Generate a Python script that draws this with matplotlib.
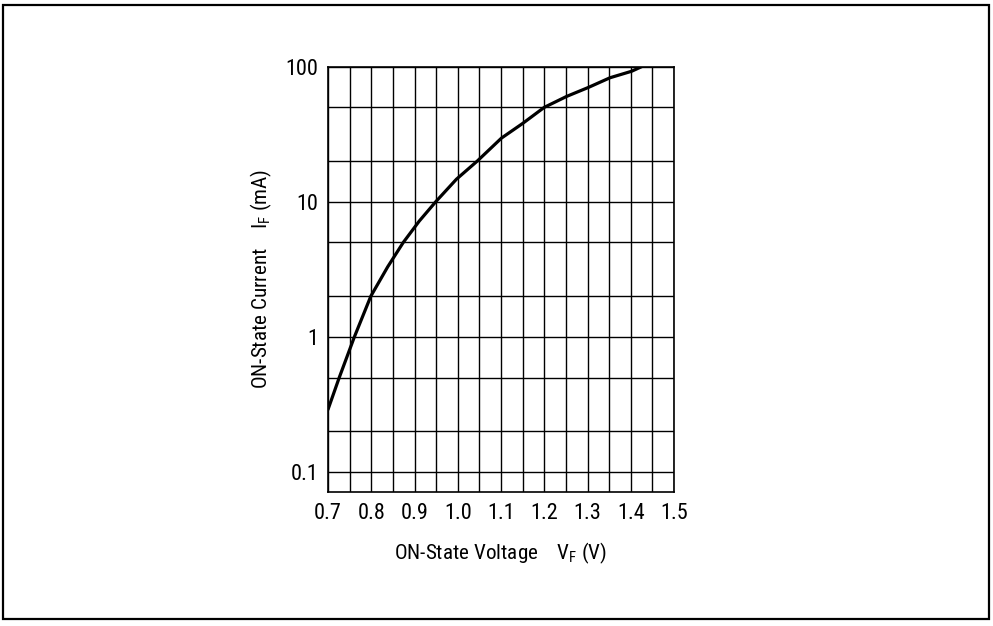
import matplotlib
matplotlib.use("Agg")
import matplotlib.pyplot as plt
from matplotlib.patches import Rectangle

# ON-state characteristic
voltage = [0.700, 0.726, 0.761, 0.799, 0.838, 0.874, 0.911, 0.949, 0.997,
           1.045, 1.101, 1.150, 1.200, 1.252, 1.302, 1.352, 1.402, 1.425]
current = [0.29, 0.5, 1.0, 2.0, 3.3, 5.0, 7.2, 10.0, 14.7,
           20.0, 29.6, 38.0, 50.0, 60.3, 70.2, 82.8, 92.5, 100.0]

x_ticks = [0.7, 0.8, 0.9, 1.0, 1.1, 1.2, 1.3, 1.4, 1.5]
x_tick_labels = ["0.7", "0.8", "0.9", "1.0", "1.1", "1.2", "1.3", "1.4", "1.5"]
x_grid = [0.7 + 0.05 * i for i in range(17)]
y_ticks = [0.1, 1, 10, 100]
y_tick_labels = ["0.1", "1", "10", "100"]
y_grid = [0.2, 0.5, 2, 5, 20, 50]

FONTS = ["Roboto Condensed", "Liberation Sans", "DejaVu Sans"]
plt.rcParams["font.family"] = FONTS
plt.rcParams["mathtext.fontset"] = "custom"
plt.rcParams["mathtext.rm"] = "Roboto Condensed"
plt.rcParams["mathtext.it"] = "Roboto Condensed"


def main() -> None:
    fig = plt.figure(figsize=(9.93, 6.26), dpi=100)
    ax = fig.add_axes([0.3303, 0.214, 0.3485, 0.6795])

    ax.set_yscale("log")
    ax.set_xlim(0.7, 1.5)
    ax.set_ylim(0.0711, 100)

    # grid lines
    for gx in x_grid:
        ax.axvline(gx, color="black", lw=1.0, zorder=1)
    for gy in y_ticks + y_grid:
        ax.axhline(gy, color="black", lw=1.0, zorder=1)

    ax.plot(voltage, current, color="black", lw=2.3,
            solid_capstyle="round", solid_joinstyle="round", zorder=3)

    ax.set_xticks(x_ticks)
    ax.set_xticklabels(x_tick_labels)
    ax.set_yticks(y_ticks)
    ax.set_yticklabels(y_tick_labels)
    ax.yaxis.set_minor_locator(matplotlib.ticker.NullLocator())
    ax.tick_params(axis="both", length=0, labelsize=16)
    ax.tick_params(axis="x", pad=8)
    ax.tick_params(axis="y", pad=7)
    for s in ax.spines.values():
        s.set_linewidth(1.2)

    ax.set_xlabel(r"ON-State Voltage    V$_\mathrm{F}$ (V)", fontsize=15.2, labelpad=12)
    ax.set_ylabel(r"ON-State Current    I$_\mathrm{F}$ (mA)", fontsize=15.2, labelpad=8)

    # outer frame around the whole figure
    fig.patches.append(Rectangle((2.5 / 993, 1 - 619 / 626), 986.5 / 993, 614 / 626,
                                 transform=fig.transFigure, fill=False,
                                 edgecolor="black", lw=1.6))

    plt.savefig("out.png", dpi=100)
    plt.close()


if __name__ == "__main__":
    main()
